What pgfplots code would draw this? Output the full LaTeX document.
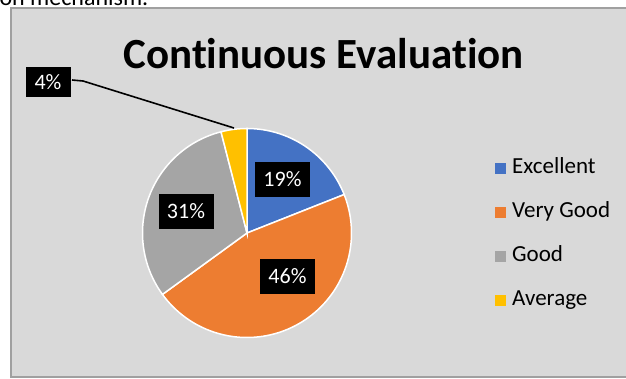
\documentclass[border=0pt]{standalone}
\usepackage{pgfplots}
\pgfplotsset{compat=1.18}
\usepackage{fontspec}
\setmainfont{Carlito}[Ligatures=NoCommon]
\definecolor{xlblue}{HTML}{4472C4}
\definecolor{xlorange}{HTML}{ED7D31}
\definecolor{xlgrey}{HTML}{A5A5A5}
\definecolor{xlyellow}{HTML}{FFC000}
\definecolor{bggrey}{HTML}{D9D9D9}
\definecolor{boxgrey}{HTML}{A0A0A0}
% pie centre and radius, in pixels of the 626x378 picture (y up)
\newcommand\cx{247}
\newcommand\cy{145}
\newcommand\rr{104.5}
\newcommand\lbl{\fontsize{22}{22}\selectfont}

\begin{document}
\begin{tikzpicture}[x=1pt,y=1pt]
\useasboundingbox (0,0) rectangle (626,378);
\clip (0,0) rectangle (626,378);
\fill[white] (0,0) rectangle (626,378);
\node[anchor=base west, font=\fontsize{24}{24}\selectfont] at (-4,372) {on mechanism.};
\draw[draw=boxgrey, line width=2pt, fill=bggrey] (11,1) rectangle (640,370);
\begin{axis}[
  at={(0,0)}, anchor=south west,
  width=626pt, height=378pt, scale only axis,
  xmin=0, xmax=626, ymin=0, ymax=378,
  hide axis, clip=false,
  legend image code/.code={\fill[#1,draw=none] (0pt,-5.5pt) rectangle (11pt,5.5pt);},
  legend style={at={(axis cs:492,223)}, anchor=north west, draw=none, fill=none,
    font=\fontsize{23}{23}\selectfont, row sep=22pt, column sep=6pt,
    nodes={inner sep=0pt, text height=16pt, text depth=6pt},
    cells={anchor=west}},
]
% shares: Excellent 19, Very Good 46, Good 31, Average 4 (per cent)
% slices run clockwise from 12 o'clock, 3.6 degrees a point
\addplot[fill=xlblue, draw=white, line width=1.5pt, domain=21.6:90, samples=40, variable=\t]
  ({\cx+\rr*cos(t)}, {\cy+\rr*sin(t)}) -- (axis cs:\cx,\cy) -- cycle;
\addlegendentry{Excellent}
\addplot[fill=xlorange, draw=white, line width=1.5pt, domain=-144:21.6, samples=80, variable=\t]
  ({\cx+\rr*cos(t)}, {\cy+\rr*sin(t)}) -- (axis cs:\cx,\cy) -- cycle;
\addlegendentry{Very Good}
\addplot[fill=xlgrey, draw=white, line width=1.5pt, domain=-255.6:-144, samples=60, variable=\t]
  ({\cx+\rr*cos(t)}, {\cy+\rr*sin(t)}) -- (axis cs:\cx,\cy) -- cycle;
\addlegendentry{Good}
\addplot[fill=xlyellow, draw=white, line width=1.5pt, domain=-270:-255.6, samples=10, variable=\t]
  ({\cx+\rr*cos(t)}, {\cy+\rr*sin(t)}) -- (axis cs:\cx,\cy) -- cycle;
\addlegendentry{Average}

\node[font=\fontsize{43}{43}\selectfont\bfseries, anchor=base] at (axis cs:323.5,309) {Continuous Evaluation};

\draw[black, line width=1.6pt] (axis cs:72,298) -- (axis cs:83,297) -- (axis cs:234,250);
\tikzset{pct/.style={fill=black, text=white, font=\lbl, minimum width=55pt, minimum height=35pt, inner sep=0pt}}
\node[pct] at (axis cs:282.5,198.5) {19\%};
\node[pct] at (axis cs:287.5,102) {46\%};
\node[pct] at (axis cs:186,166.5) {31\%};
\node[pct, minimum width=45pt, minimum height=30pt] at (axis cs:48,296) {4\%};
\end{axis}
\end{tikzpicture}
\end{document}
